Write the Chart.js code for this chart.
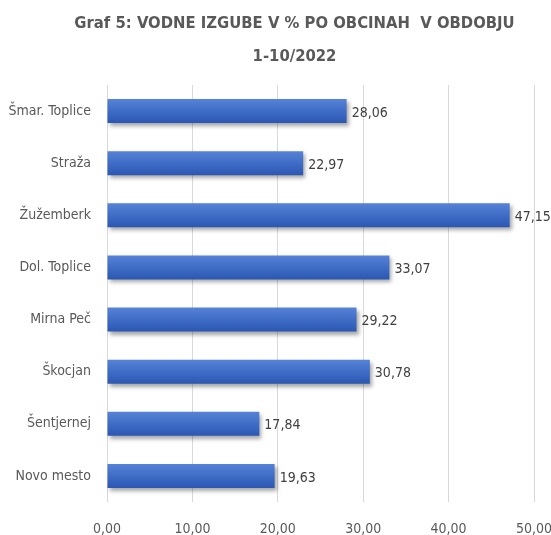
<!DOCTYPE html>
<html>
<head>
<meta charset="utf-8">
<script src="https://cdn.jsdelivr.net/npm/chart.js@4"></script>
<style>
  html, body { margin: 0; padding: 0; background: #ffffff; }
  #wrap { width: 551px; height: 535px; }
</style>
</head>
<body>
<div id="wrap"><canvas id="c" width="551" height="535"></canvas></div>
<script>
const categories = ['Šmar. Toplice', 'Straža', 'Žužemberk', 'Dol. Toplice', 'Mirna Peč', 'Škocjan', 'Šentjernej', 'Novo mesto'];
const values = [28.06, 22.97, 47.15, 33.07, 29.22, 30.78, 17.84, 19.63];
const xTicks = [0, 10, 20, 30, 40, 50];
const titleLines = ['Graf 5: VODNE IZGUBE V % PO OBCINAH  V OBDOBJU', '1-10/2022'];

const FONT = "'DejaVu Sans Condensed', 'Roboto', sans-serif";
const fmt = v => v.toFixed(2).replace('.', ',');

const shadowPlugin = {
  id: 'barShadow',
  beforeDatasetsDraw(chart) {
    const ctx = chart.ctx;
    ctx.save();
    ctx.shadowColor = 'rgba(0,0,0,0.35)';
    ctx.shadowBlur = 4;
    ctx.shadowOffsetX = 2;
    ctx.shadowOffsetY = 3;
  },
  afterDatasetsDraw(chart) {
    chart.ctx.restore();
  }
};

const labelPlugin = {
  id: 'valueLabels',
  afterDatasetsDraw(chart) {
    const ctx = chart.ctx;
    const meta = chart.getDatasetMeta(0);
    ctx.save();
    ctx.font = '14px ' + FONT;
    ctx.fillStyle = '#404040';
    ctx.textAlign = 'left';
    ctx.textBaseline = 'middle';
    meta.data.forEach((el, i) => {
      ctx.fillText(fmt(chart.data.datasets[0].data[i]), el.x + 5, el.y + 2);
    });
    ctx.restore();
  }
};

const titleShift = {
  id: 'titleShift',
  afterLayout(chart) {
    const t = chart.titleBlock;
    if (t) { t.left += 19; t.right += 19; }
  }
};

function barFill(context) {
  const chart = context.chart;
  const ys = chart.scales && chart.scales.y;
  if (!chart.chartArea || !ys) return '#4472C4';
  const yc = ys.getPixelForValue(context.dataIndex);
  const g = chart.ctx.createLinearGradient(0, yc - 12, 0, yc + 12);
  g.addColorStop(0, '#5683d6');
  g.addColorStop(0.5, '#3f6dc6');
  g.addColorStop(1, '#2b57b2');
  return g;
}

new Chart(document.getElementById('c'), {
  type: 'bar',
  data: {
    labels: categories,
    datasets: [{
      data: values,
      backgroundColor: barFill,
      borderWidth: 0,
      barPercentage: 0.92,
      categoryPercentage: 0.5
    }]
  },
  options: {
    indexAxis: 'y',
    responsive: false,
    animation: false,
    layout: { padding: 0 },
    plugins: {
      legend: { display: false },
      tooltip: { enabled: false },
      title: {
        display: true,
        text: titleLines,
        color: '#595959',
        font: { family: FONT, size: 16.5, weight: 'bold', lineHeight: 2.0 },
        padding: { top: 7, bottom: 12 }
      }
    },
    scales: {
      x: {
        min: xTicks[0],
        max: xTicks[xTicks.length - 1],
        afterBuildTicks(scale) { scale.ticks = xTicks.map(v => ({ value: v })); },
        afterFit(scale) { scale.height = 33; scale.paddingLeft = 0; scale.paddingRight = 17; },
        ticks: {
          color: '#595959',
          font: { family: FONT, size: 14 },
          padding: 19,
          maxRotation: 0,
          callback: v => fmt(v)
        },
        grid: { color: '#d9d9d9', drawTicks: false },
        border: { display: false }
      },
      y: {
        afterFit(scale) { scale.width = 107; },
        ticks: {
          color: '#595959',
          font: { family: FONT, size: 14 },
          padding: 16
        },
        grid: { display: false, drawTicks: false },
        border: { display: false }
      }
    }
  },
  plugins: [titleShift, shadowPlugin, labelPlugin]
});
</script>
</body>
</html>
